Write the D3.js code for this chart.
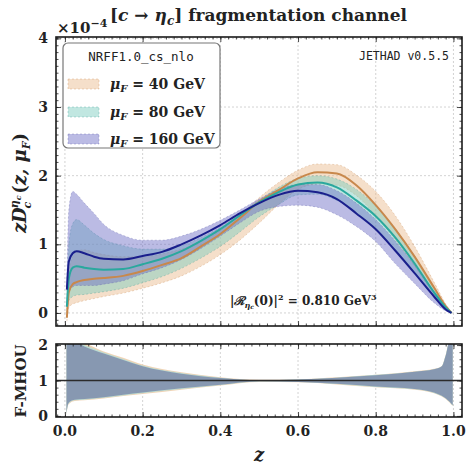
<!DOCTYPE html>
<html><head><meta charset="utf-8">
<script src="https://cdn.jsdelivr.net/npm/d3@7"></script>
<style>body{margin:0;background:#fff}svg{display:block}</style>
</head><body><svg id="c" width="467" height="466"></svg>
<script>
// ---------- DATA ----------
const zGrid = [0.005,0.01,0.02,0.03,0.05,0.075,0.1,0.15,0.2,0.25,0.3,0.35,0.4,0.45,0.5,0.55,0.6,0.65,0.7,0.75,0.8,0.85,0.9,0.95,0.98,0.995];
// central values (x 1e-4)
const c40  = [-0.07,0.30,0.42,0.45,0.48,0.50,0.51,0.54,0.61,0.70,0.80,0.97,1.15,1.38,1.62,1.79,1.96,2.05,2.03,1.86,1.57,1.22,0.82,0.37,0.10,0.0];
const c80  = [0.09,0.50,0.66,0.68,0.66,0.64,0.63,0.64,0.71,0.79,0.90,1.05,1.22,1.42,1.61,1.76,1.87,1.90,1.83,1.64,1.41,1.10,0.72,0.30,0.08,0.0];
const c160 = [0.34,0.75,0.87,0.90,0.87,0.82,0.79,0.78,0.83,0.89,1.00,1.13,1.28,1.45,1.60,1.72,1.78,1.76,1.66,1.45,1.22,0.91,0.58,0.24,0.05,0.0];
// uncertainty bands
const lo40  = [-0.12,0.08,0.13,0.15,0.18,0.21,0.24,0.29,0.36,0.44,0.54,0.68,0.85,1.06,1.31,1.58,1.80,1.88,1.86,1.71,1.42,1.07,0.68,0.28,0.07,0.0];
const hi40  = [0.05,0.60,0.82,0.90,0.92,0.88,0.85,0.82,0.82,0.86,0.93,1.04,1.20,1.42,1.68,1.90,2.08,2.17,2.16,2.01,1.77,1.42,0.97,0.45,0.13,0.0];
const lo80  = [0.0,0.18,0.24,0.26,0.27,0.29,0.31,0.36,0.44,0.53,0.65,0.80,0.97,1.18,1.40,1.58,1.72,1.73,1.64,1.46,1.22,0.92,0.58,0.23,0.05,0.0];
const hi80  = [0.20,1.00,1.30,1.36,1.28,1.16,1.07,0.98,0.93,0.93,0.98,1.10,1.25,1.45,1.64,1.83,1.96,2.00,1.95,1.80,1.56,1.23,0.83,0.37,0.10,0.0];
const lo160 = [0.10,0.30,0.38,0.40,0.40,0.40,0.42,0.47,0.57,0.66,0.78,0.94,1.12,1.31,1.48,1.55,1.57,1.54,1.43,1.26,1.04,0.72,0.43,0.15,0.03,0.0];
const hi160 = [0.50,1.50,1.77,1.73,1.60,1.45,1.29,1.13,1.06,1.06,1.12,1.22,1.35,1.50,1.66,1.80,1.87,1.87,1.78,1.60,1.36,1.05,0.70,0.31,0.08,0.0];
// F-MHOU ratio panel
const zRatio = [0.004,0.008,0.015,0.025,0.05,0.1,0.15,0.2,0.3,0.4,0.5,0.6,0.7,0.8,0.9,0.95,0.97,0.98,0.99,0.998];
const rLo40  = [0.02,0.30,0.38,0.42,0.44,0.49,0.56,0.62,0.74,0.86,0.96,0.95,0.89,0.81,0.74,0.64,0.55,0.48,0.38,0.28];
const rHi40  = [2.1,2.1,2.1,2.1,2.05,1.82,1.64,1.45,1.23,1.09,1.02,1.03,1.09,1.16,1.26,1.33,1.41,1.72,2.1,2.1];
const rLo80  = [0.03,0.32,0.40,0.44,0.46,0.51,0.58,0.64,0.76,0.87,0.97,0.96,0.90,0.82,0.75,0.65,0.56,0.49,0.39,0.29];
const rHi80  = [2.1,2.1,2.1,2.1,2.0,1.79,1.61,1.42,1.21,1.08,1.01,1.03,1.08,1.16,1.25,1.32,1.40,1.71,2.1,2.1];
const rLo160 = [0.05,0.34,0.42,0.46,0.48,0.53,0.60,0.66,0.78,0.88,0.98,0.96,0.91,0.83,0.76,0.66,0.57,0.50,0.40,0.30];
const rHi160 = [2.1,2.1,2.1,2.1,1.96,1.76,1.58,1.40,1.19,1.07,1.01,1.03,1.08,1.15,1.25,1.32,1.40,1.70,2.1,2.1];

const xTicks = [0.0,0.2,0.4,0.6,0.8,1.0];
const yTicks = [0,1,2,3,4];
const rTicks = [0,1,2];
const seriesNames = ["40","80","160"];

// ---------- LAYOUT ----------
const svg = d3.select("#c");
const L=56, R=462, T1=37, B1=326, T2=344, B2=417;
const x = d3.scaleLinear().domain([-0.023,1.022]).range([L,R]);
const y = d3.scaleLinear().domain([-0.19,4.02]).range([B1,T1]);
const yr = d3.scaleLinear().domain([-0.03,2.03]).range([B2,T2]);

const serif = "'DejaVu Serif', serif";
const mono = "'DejaVu Sans Mono', 'Liberation Mono', monospace";

const defs = svg.append("defs");
defs.append("clipPath").attr("id","clip1").append("rect").attr("x",L).attr("y",T1).attr("width",R-L).attr("height",B1-T1);
defs.append("clipPath").attr("id","clip2").append("rect").attr("x",L).attr("y",T2).attr("width",R-L).attr("height",B2-T2);

// grids
function vgrid(top, bottom){
  svg.append("g").selectAll("line").data(xTicks).join("line").attr("x1",d=>x(d)).attr("x2",d=>x(d))
    .attr("y1",top).attr("y2",bottom).attr("stroke","#c8c8c8").attr("stroke-width",0.8).attr("stroke-dasharray","2,2");
}
vgrid(T1,B1); vgrid(T2,B2);
svg.append("g").selectAll("line").data(yTicks).join("line").attr("x1",L).attr("x2",R)
  .attr("y1",d=>y(d)).attr("y2",d=>y(d)).attr("stroke","#c8c8c8").attr("stroke-width",0.8).attr("stroke-dasharray","2,2");

// ---------- MAIN PANEL ----------
const styles = {
  "40":  {fill:"#e9b98c", line:"#c8884c", edge:"#c8884c"},
  "80":  {fill:"#78cbbd", line:"#2aa89e", edge:"#3a9a90"},
  "160": {fill:"#6a6ac4", line:"#1a1f8c", edge:"#5a5aa8"}
};
const mainData = {
  "40": {c:c40, lo:lo40, hi:hi40},
  "80": {c:c80, lo:lo80, hi:hi80},
  "160":{c:c160, lo:lo160, hi:hi160}
};
const g1 = svg.append("g").attr("clip-path","url(#clip1)");
const curve = d3.curveMonotoneX;
seriesNames.forEach(s=>{
  const d = zGrid.map((z,i)=>({z, c:mainData[s].c[i], lo:mainData[s].lo[i], hi:mainData[s].hi[i]}));
  g1.append("path").datum(d)
    .attr("d", d3.area().x(p=>x(p.z)).y0(p=>y(p.lo)).y1(p=>y(p.hi)).curve(curve))
    .attr("fill",styles[s].fill).attr("fill-opacity",0.46);
  ["lo","hi"].forEach(k=>{
    g1.append("path").datum(d)
      .attr("d", d3.line().x(p=>x(p.z)).y(p=>y(p[k])).curve(curve))
      .attr("fill","none").attr("stroke",styles[s].edge).attr("stroke-opacity",0.4)
      .attr("stroke-width",0.8).attr("stroke-dasharray","2,2");
  });
});
seriesNames.forEach(s=>{
  const d = zGrid.map((z,i)=>({z, c:mainData[s].c[i]}));
  g1.append("path").datum(d)
    .attr("d", d3.line().x(p=>x(p.z)).y(p=>y(p.c)).curve(curve))
    .attr("fill","none").attr("stroke",styles[s].line).attr("stroke-width",2);
});

// ---------- RATIO PANEL ----------
const ratioData = {"40":[rLo40,rHi40],"80":[rLo80,rHi80],"160":[rLo160,rHi160]};
const ratioFill = {"40":"#f0cfae","80":"#b4dcd4","160":"#8798b1"};
const g2 = svg.append("g").attr("clip-path","url(#clip2)");
seriesNames.forEach(s=>{
  const d = zRatio.map((z,i)=>({z, lo:ratioData[s][0][i], hi:ratioData[s][1][i]}));
  g2.append("path").datum(d)
    .attr("d", d3.area().x(p=>x(p.z)).y0(p=>yr(p.lo)).y1(p=>yr(p.hi)).curve(curve))
    .attr("fill",ratioFill[s]).attr("fill-opacity", s==="160"?1:0.9);
});
g2.append("line").attr("x1",L).attr("x2",R).attr("y1",yr(1)).attr("y2",yr(1))
  .attr("stroke","#2b2b2b").attr("stroke-width",1.6);

// ---------- FRAMES & TICKS ----------
const xMinor = d3.range(-0.02,1.021,0.02);
function frame(top, bottom, yScale, yMaj, yMin){
  const ax = [
    [d3.axisBottom(x).tickValues(xTicks).tickSize(-5), bottom],
    [d3.axisBottom(x).tickValues(xMinor).tickSize(-2.5), bottom],
    [d3.axisTop(x).tickValues(xTicks).tickSize(-5), top],
    [d3.axisTop(x).tickValues(xMinor).tickSize(-2.5), top]
  ];
  ax.forEach(([a,yy])=>{
    const g = svg.append("g").attr("transform",`translate(0,${yy})`).call(a.tickFormat(""));
    g.select(".domain").remove();
    g.selectAll("line").attr("stroke","#222").attr("stroke-width",0.8);
  });
  const ay = [
    [d3.axisLeft(yScale).tickValues(yMaj).tickSize(-5), L],
    [d3.axisLeft(yScale).tickValues(yMin).tickSize(-2.5), L],
    [d3.axisRight(yScale).tickValues(yMaj).tickSize(-5), R],
    [d3.axisRight(yScale).tickValues(yMin).tickSize(-2.5), R]
  ];
  ay.forEach(([a,xx])=>{
    const g = svg.append("g").attr("transform",`translate(${xx},0)`).call(a.tickFormat(""));
    g.select(".domain").remove();
    g.selectAll("line").attr("stroke","#222").attr("stroke-width",0.8);
  });
  svg.append("rect").attr("x",L).attr("y",top).attr("width",R-L).attr("height",bottom-top)
    .attr("fill","none").attr("stroke","#1a1a1a").attr("stroke-width",1.6);
}
frame(T1,B1,y,yTicks,d3.range(-0.1,4.01,0.1));
frame(T2,B2,yr,rTicks,d3.range(0,2.01,0.2));

// tick labels
const tl = svg.append("g").attr("font-family",serif).attr("font-weight","bold").attr("font-size",14).attr("fill","#222");
tl.selectAll("text.y").data(yTicks).join("text").attr("x",48).attr("y",d=>y(d)+5)
  .attr("text-anchor","end").text(d=>d);
tl.selectAll("text.r").data(rTicks).join("text").attr("x",48).attr("y",d=>yr(d)+5)
  .attr("text-anchor","end").text(d=>d);
tl.selectAll("text.x").data(xTicks).join("text").attr("x",d=>x(d)).attr("y",436)
  .attr("text-anchor","middle").text(d=>d.toFixed(1));

// ---------- TEXTS ----------
const title = svg.append("text").attr("x",110).attr("y",21).attr("font-family",serif)
  .attr("font-weight","bold").attr("font-size",17).attr("fill","#222");
title.append("tspan").text("[");
title.append("tspan").attr("font-style","italic").text("c");
title.append("tspan").text(" → ");
title.append("tspan").attr("font-style","italic").text("η");
title.append("tspan").attr("font-style","italic").attr("font-size",12).attr("dy",4).text("c");
title.append("tspan").attr("dy",-4).text("] fragmentation channel");

const exp = svg.append("text").attr("x",57).attr("y",33).attr("font-family",serif)
  .attr("font-weight","bold").attr("font-size",15).attr("fill","#222");
exp.append("tspan").text("×10");
exp.append("tspan").attr("font-size",11).attr("dy",-6).text("−4");

svg.append("text").attr("x",449).attr("y",60).attr("text-anchor","end").attr("font-family",mono)
  .attr("font-size",11.5).attr("fill","#222").text("JETHAD v0.5.5");

// y label main
const yl = svg.append("text").attr("transform","translate(26,183) rotate(-90)").attr("text-anchor","middle")
  .attr("font-family",serif).attr("font-weight","bold").attr("font-size",18).attr("fill","#222");
yl.append("tspan").attr("font-style","italic").text("zD");
yl.append("tspan").attr("font-style","italic").attr("font-size",11).attr("dy",-8).attr("dx",-1).text("η");
yl.append("tspan").attr("font-style","italic").attr("font-size",8).attr("dy",3).text("c");
yl.append("tspan").attr("font-style","italic").attr("font-size",11).attr("dy",10).attr("dx",-13).text("c");
yl.append("tspan").attr("dy",-5).attr("dx",8).text("(");
yl.append("tspan").attr("font-style","italic").text("z, μ");
yl.append("tspan").attr("font-style","italic").attr("font-size",11).attr("dy",4).text("F");
yl.append("tspan").attr("dy",-4).text(")");

svg.append("text").attr("transform","translate(26,381) rotate(-90)").attr("text-anchor","middle")
  .attr("font-family",serif).attr("font-weight","bold").attr("font-size",15).attr("fill","#222").text("F-MHOU");

svg.append("text").attr("x",259).attr("y",461).attr("text-anchor","middle").attr("font-family",serif)
  .attr("font-weight","bold").attr("font-style","italic").attr("font-size",18).attr("fill","#222").text("z");

// R annotation
const ra = svg.append("text").attr("x",230).attr("y",305).attr("font-family",serif)
  .attr("font-weight","bold").attr("font-size",12).attr("fill","#222");
ra.append("tspan").text("|");
ra.append("tspan").attr("font-style","italic").text("ℛ");
ra.append("tspan").attr("font-style","italic").attr("font-size",8).attr("dy",3).text("η");
ra.append("tspan").attr("font-style","italic").attr("font-size",6).attr("dy",1).text("c");
ra.append("tspan").attr("dy",-4).text("(0)|");
ra.append("tspan").attr("font-size",8).attr("dy",-5).text("2");
ra.append("tspan").attr("dy",5).text(" = 0.810 GeV");
ra.append("tspan").attr("font-size",8).attr("dy",-5).text("3");

// ---------- LEGEND ----------
const lg = svg.append("g");
lg.append("rect").attr("x",63).attr("y",43).attr("width",157).attr("height",105).attr("rx",5)
  .attr("fill","#fff").attr("stroke","#777").attr("stroke-width",1.2);
lg.append("text").attr("x",141).attr("y",61).attr("text-anchor","middle").attr("font-family",mono)
  .attr("font-size",12.5).attr("fill","#222").text("NRFF1.0_cs_nlo");
const legY = {"40":84,"80":112,"160":139};
seriesNames.forEach(s=>{
  lg.append("rect").attr("x",68).attr("y",legY[s]-5).attr("width",31).attr("height",10)
    .attr("fill",styles[s].fill).attr("fill-opacity",0.46)
    .attr("stroke",styles[s].edge).attr("stroke-opacity",0.4).attr("stroke-dasharray","2,2").attr("stroke-width",0.8);
  const t = lg.append("text").attr("x",110).attr("y",legY[s]+5).attr("font-family",serif)
    .attr("font-weight","bold").attr("font-size",14).attr("fill","#222");
  t.append("tspan").attr("font-style","italic").text("μ");
  t.append("tspan").attr("font-style","italic").attr("font-size",10).attr("dy",3).text("F");
  t.append("tspan").attr("dy",-3).text(" = " + s + " GeV");
});
</script></body></html>
